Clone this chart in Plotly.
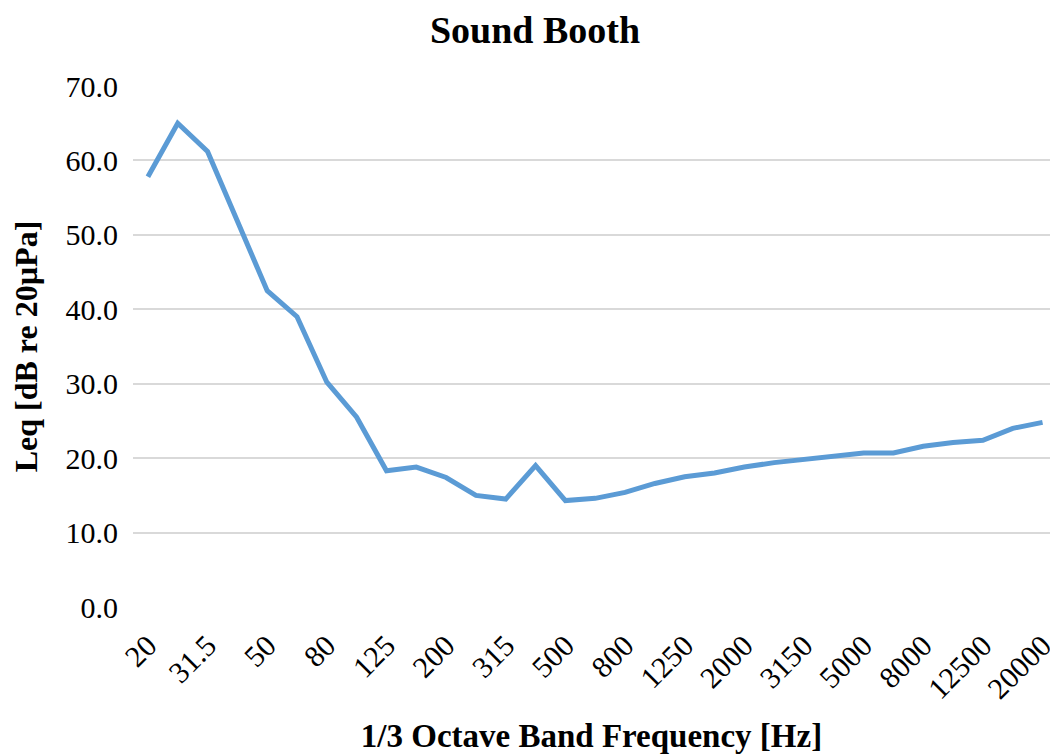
import plotly.graph_objects as go

freq_labels = ["20", "25", "31.5", "40", "50", "63", "80", "100", "125", "160",
               "200", "250", "315", "400", "500", "630", "800", "1000", "1250", "1600",
               "2000", "2500", "3150", "4000", "5000", "6300", "8000", "10000", "12500", "16000", "20000"]
leq_values = [57.8, 65.0, 61.2, 52.0, 42.5, 39.0, 30.2, 25.5, 18.3, 18.8,
              17.4, 15.0, 14.5, 19.0, 14.3, 14.6, 15.4, 16.6, 17.5, 18.0,
              18.8, 19.4, 19.8, 20.2, 20.7, 20.7, 21.6, 22.1, 22.4, 24.0, 24.8]
tick_labels = freq_labels[::2]
y_ticks = [0, 10, 20, 30, 40, 50, 60, 70]

font_family = "Liberation Serif, Times New Roman, serif"

fig = go.Figure()
fig.add_trace(go.Scatter(
    x=freq_labels, y=leq_values, mode="lines",
    line=dict(color="#5B9BD5", width=5),
    showlegend=False,
))

fig.update_layout(
    width=1050, height=754,
    margin=dict(l=133, r=0, t=86, b=147),
    paper_bgcolor="white", plot_bgcolor="white",
    font=dict(family=font_family, color="black"),
    title=dict(text="<b>Sound Booth</b>", x=535 / 1050, xanchor="center",
               xref="container", y=1 - 30 / 754, yanchor="middle",
               font=dict(size=38, family=font_family, color="black")),
    xaxis=dict(
        type="category",
        range=[-0.5, 30.25],
        automargin=False,
        tickmode="array", tickvals=tick_labels, ticktext=tick_labels,
        tickangle=-45, tickfont=dict(size=30, family=font_family, color="black"),
        ticklabelstandoff=14,
        showgrid=False, showline=False, zeroline=False, ticks="",
        title=dict(text="<b>1/3 Octave Band Frequency [Hz]</b>",
                   font=dict(size=33, family=font_family, color="black"),
                   standoff=24),
    ),
    yaxis=dict(
        range=[0, 70],
        automargin=False,
        tickmode="array", tickvals=y_ticks,
        ticktext=[f"{v:.1f}" for v in y_ticks],
        tickfont=dict(size=30, family=font_family, color="black"),
        ticklabelstandoff=14,
        showgrid=True, gridcolor="#D9D9D9", gridwidth=1.5,
        zeroline=False, showline=False, ticks="", ticklen=0,
        title=dict(text="<b>Leq [dB re 20µPa]</b>",
                   font=dict(size=32, family=font_family, color="black"),
                   standoff=18),
    ),
)

fig.write_html("out.html", config={"displayModeBar": False},
               post_script="document.body.style.margin='0';")
